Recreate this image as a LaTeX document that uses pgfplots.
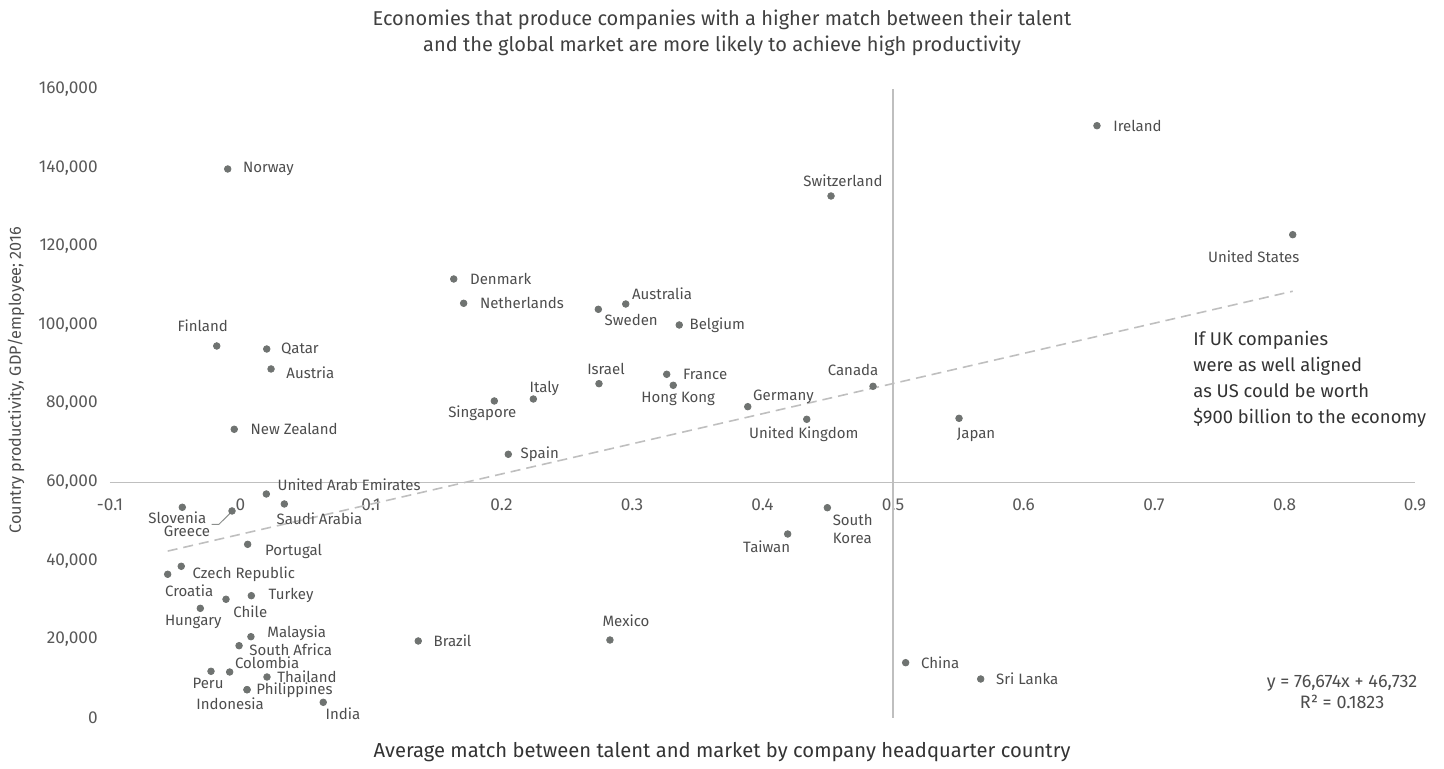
\documentclass[border=0pt]{standalone}
\usepackage{pgfplots}
\pgfplotsset{compat=1.18}
\usepackage{fontspec}
\setmainfont{Fira Sans}
\definecolor{dotc}{HTML}{6F7371}
\definecolor{lblc}{HTML}{4D4D4D}
\definecolor{tickc}{HTML}{595959}
\definecolor{linec}{HTML}{BFBFBF}
\definecolor{titc}{HTML}{404040}
\definecolor{anc}{HTML}{333333}
\newcommand{\lab}[6]{\node[lbl, anchor=#3, xshift={0.5*(#4)*1pt}, yshift={-0.5*(#5)*1pt}] at (axis cs:#1,#2) {#6};}
\begin{document}
\begin{tikzpicture}[lbl/.style={font=\fontsize{7.5}{9}\selectfont, text=lblc, inner sep=0pt}]
\path[use as bounding box] (-55pt,-25.5pt) rectangle (667pt,359pt);
\begin{axis}[
  at={(0,0)}, anchor=south west, scale only axis,
  width=652.5pt, height=314.5pt,
  xmin=-0.1, xmax=0.9, ymin=0, ymax=160000,
  axis line style={draw=none}, major tick length=0pt,
  scaled x ticks=false, scaled y ticks=false,
  /pgf/number format/assume math mode=true,
  xtick={-0.1,0,0.1,0.2,0.3,0.4,0.5,0.6,0.7,0.8,0.9},
  ytick={0,20000,40000,60000,80000,100000,120000,140000,160000},
  x tick label style={/pgf/number format/fixed, /pgf/number format/precision=1, anchor=north, yshift=109.9pt},
  y tick label style={/pgf/number format/fixed, /pgf/number format/precision=0, /pgf/number format/1000 sep={,}, anchor=east, xshift=-6pt},
  tick label style={font=\fontsize{8.6}{10}\selectfont, color=tickc, inner sep=0pt},
  clip=false,
]
% reference lines
\addplot[linec, line width=0.6pt] coordinates {(-0.1,60000) (0.9,60000)};
\addplot[linec, line width=0.6pt] coordinates {(0.5,0) (0.5,160000)};
% trend line y = 76,674x + 46,732
\addplot[linec, line width=0.8pt, dash pattern=on 5pt off 3pt] coordinates {(-0.0558,42454) (0.8063,108554)};
% Greece leader
\addplot[color=dotc!80, line width=0.5pt] coordinates {(-0.0221,49275) (-0.0165,49275) (-0.0075,52225)};
% data
\addplot[only marks, mark=*, mark size=1.65pt, color=dotc] coordinates {
(-0.0098,139650) (0.6563,150660) (0.4525,132780) (0.8063,122940)
(0.1634,111670) (0.1710,105490) (0.2742,103960) (0.2952,105310)
(0.3362,99970) (0.2747,85040) (0.3266,87430) (0.3316,84630)
(0.2244,81140) (0.1945,80640) (0.2052,67080) (0.3887,79190)
(0.4339,75980) (0.4847,84370) (0.5506,76230) (-0.0182,94630)
(0.0201,93860) (0.0234,88780) (-0.0048,73440) (0.0198,56980)
(0.0336,54440) (-0.0446,53600) (-0.0065,52660) (0.0055,44180)
(-0.0454,38590) (-0.0558,36560) (0.0083,31110) (-0.0111,30200)
(-0.0308,27900) (0.0080,20680) (-0.0011,18390) (-0.0083,11700)
(-0.0226,11880) (0.0203,10430) (0.0050,7200) (0.0050,7200)
(0.0634,3990) (0.1362,19590) (0.4497,53490) (0.4193,46800)
(0.5097,14070) (0.5672,9920) (0.2831,19840)
};
% labels
\lab{-0.0098}{139650}{west}{15}{0}{Norway}
\lab{0.6563}{150660}{west}{16}{0}{Ireland}
\lab{0.4525}{132780}{center}{12}{-15}{Switzerland}
\lab{0.8063}{122940}{center}{-39}{22}{United States}
\lab{0.1634}{111670}{west}{16}{0}{Denmark}
\lab{0.1710}{105490}{west}{16}{0}{Netherlands}
\lab{0.2742}{103960}{west}{6}{11}{Sweden}
\lab{0.2952}{105310}{west}{6}{-10}{Australia}
\lab{0.3362}{99970}{west}{10}{0}{Belgium}
\lab{0.2747}{85040}{center}{7}{-15}{Israel}
\lab{0.3266}{87430}{west}{16}{0}{France}
\lab{0.3316}{84630}{center}{5}{14}{Hong Kong}
\lab{0.2244}{81140}{center}{11}{-11}{Italy}
\lab{0.1945}{80640}{center}{-12}{12}{Singapore}
\lab{0.2052}{67080}{west}{12}{0}{Spain}
\lab{0.3887}{79190}{west}{5}{-10}{Germany}
\lab{0.4339}{75980}{center}{-3}{15}{United Kingdom}
\lab{0.4847}{84370}{center}{-20}{-16}{Canada}
\lab{0.5506}{76230}{center}{17}{17}{Japan}
\lab{-0.0182}{94630}{center}{-14}{-20}{Finland}
\lab{0.0201}{93860}{west}{14}{0}{Qatar}
\lab{0.0234}{88780}{west}{15}{4}{Austria}
\lab{-0.0048}{73440}{west}{16}{0}{New Zealand}
\lab{0.0198}{56980}{west}{11}{-9}{United Arab Emirates}
\lab{0.0336}{54440}{west}{-8}{15}{Saudi Arabia}
\lab{-0.0446}{53600}{center}{-5}{10}{Slovenia}
\lab{-0.0065}{52660}{center}{-45}{20}{Greece}
\lab{0.0055}{44180}{west}{17}{7}{Portugal}
\lab{-0.0454}{38590}{west}{11}{8}{Czech Republic}
\lab{-0.0558}{36560}{west}{-3}{16}{Croatia}
\lab{0.0083}{31110}{west}{17}{0}{Turkey}
\lab{-0.0111}{30200}{west}{7}{12}{Chile}
\lab{-0.0308}{27900}{center}{-7}{14}{Hungary}
\lab{0.0080}{20680}{west}{16}{-3}{Malaysia}
\lab{-0.0011}{18390}{west}{10}{4}{South Africa}
\lab{-0.0083}{11700}{west}{5}{-9}{Colombia}
\lab{-0.0226}{11880}{center}{-3}{12}{Peru}
\lab{0.0203}{10430}{west}{10}{0}{Thailand}
\lab{0.0050}{7200}{west}{9}{1}{Philippines}
\lab{0.0050}{7200}{center}{-17}{14}{Indonesia}
\lab{0.0634}{3990}{west}{2}{11}{India}
\lab{0.1362}{19590}{west}{15}{0}{Brazil}
\node[lbl, anchor=north west, align=left, xshift=2.5pt, yshift=-3pt] at (axis cs:0.4497,53490) {South\\Korea};
\lab{0.4193}{46800}{center}{-21}{13}{Taiwan}
\lab{0.5097}{14070}{west}{15}{0}{China}
\lab{0.5672}{9920}{west}{15}{0}{Sri Lanka}
\lab{0.2831}{19840}{center}{16}{-19}{Mexico}
% annotation
\node[anchor=west, align=left, inner sep=0pt, font=\fontsize{9.2}{13}\selectfont, text=anc] at (axis cs:0.7299,86110)
  {If UK companies\\were as well aligned\\as US could be worth\\\$900 billion to the economy};
\node[align=center, inner sep=0pt, font=\fontsize{9}{10.5}\selectfont, text=lblc] at (axis cs:0.8441,6563)
  {y = 76,674x + 46,732\\R² = 0.1823};
% titles
\node[align=center, inner sep=0pt, font=\fontsize{10}{13}\selectfont, text=titc] at (axis description cs:0.469,1.089)
  {Economies that produce companies with a higher match between their talent\\and the global market are more likely to achieve high productivity};
\node[inner sep=0pt, font=\fontsize{10.1}{12}\selectfont, text=anc] at (axis description cs:0.469,-0.054)
  {Average match between talent and market by company headquarter country};
\node[rotate=90, inner sep=0pt, font=\fontsize{8.1}{10}\selectfont, text=lblc] at (axis description cs:-0.072,0.537)
  {Country productivity, GDP/employee; 2016};
\end{axis}
\end{tikzpicture}
\end{document}
